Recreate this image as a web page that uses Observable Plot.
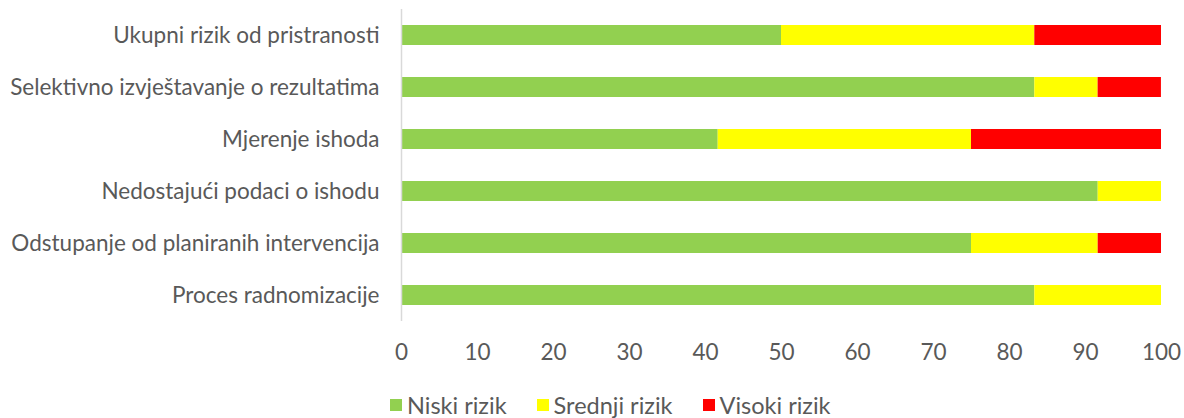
<!DOCTYPE html>
<html>
<head>
<meta charset="utf-8">
<script src="https://cdn.jsdelivr.net/npm/d3@7"></script>
<script src="https://cdn.jsdelivr.net/npm/@observablehq/plot@0.6"></script>
<style>
  html, body { margin: 0; padding: 0; background: #fff; }
  body { width: 1184px; height: 418px; overflow: hidden; font-family: Lato, sans-serif; }
  #legend { position: absolute; left: 390px; top: 391px; display: flex; align-items: center; font-size: 23.5px; color: #595959; }
  #legend .item { display: flex; align-items: center; margin-right: 30px; }
  #legend .sw { width: 12px; height: 12px; margin-right: 5px; }
</style>
</head>
<body>
<div id="chart"></div>
<div id="legend"></div>
<script>
const categories = [
  "Ukupni rizik od pristranosti",
  "Selektivno izvještavanje o rezultatima",
  "Mjerenje ishoda",
  "Nedostajući podaci o ishodu",
  "Odstupanje od planiranih intervencija",
  "Proces radnomizacije"
];
const seriesNames = ["Niski rizik", "Srednji rizik", "Visoki rizik"];
const seriesColors = ["#92D050", "#FFFF00", "#FF0000"];
const niski   = [50, 83.33, 41.67, 91.67, 75, 83.33];
const srednji = [33.33, 8.33, 33.33, 8.33, 16.67, 16.67];
const visoki  = [16.67, 8.33, 25, 0, 8.33, 0];
const xTicks = [0, 10, 20, 30, 40, 50, 60, 70, 80, 90, 100];

const values = [niski, srednji, visoki];
const data = [];
seriesNames.forEach((s, si) => {
  categories.forEach((c, ci) => {
    data.push({category: c, series: s, value: values[si][ci]});
  });
});

const chart = Plot.plot({
  width: 1184,
  height: 370,
  marginLeft: 401,
  marginRight: 23,
  marginTop: 9,
  marginBottom: 49,
  style: {fontFamily: "Lato, sans-serif", fontSize: "22.5px", color: "#595959", background: "#fff"},
  x: {domain: [0, 100], ticks: xTicks, tickSize: 0, tickPadding: 23, label: null},
  y: {domain: categories, paddingInner: 0.615, paddingOuter: 0.3075, tickSize: 0, tickPadding: 22, label: null},
  color: {domain: seriesNames, range: seriesColors},
  marks: [
    Plot.barX(data, Plot.stackX({x: "value", y: "category", fill: "series", order: seriesNames})),
    Plot.ruleX([0], {stroke: "#d9d9d9", strokeWidth: 1.5})
  ]
});
document.getElementById("chart").appendChild(chart);

const legend = document.getElementById("legend");
seriesNames.forEach((s, i) => {
  const item = document.createElement("div");
  item.className = "item";
  const sw = document.createElement("div");
  sw.className = "sw";
  sw.style.background = seriesColors[i];
  const t = document.createElement("span");
  t.textContent = s;
  item.appendChild(sw);
  item.appendChild(t);
  legend.appendChild(item);
});
</script>
</body>
</html>
